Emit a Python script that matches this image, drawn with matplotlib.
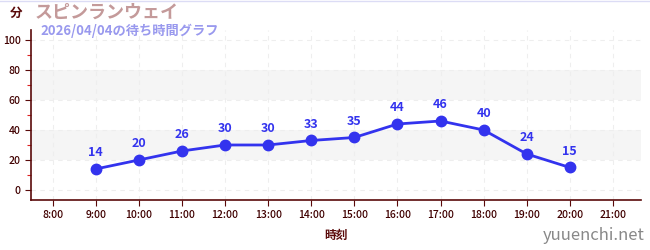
import matplotlib.pyplot as plt
import numpy as np

plt.rcParams['font.family'] = ['Noto Sans CJK JP', 'DejaVu Sans']

hours = [9, 10, 11, 12, 13, 14, 15, 16, 17, 18, 19, 20]
waits = [14, 20, 26, 30, 30, 33, 35, 44, 46, 40, 24, 15]
xticks = list(range(8, 22))
xlabels = ['%d:00' % h for h in xticks]
yticks = [0, 20, 40, 60, 80, 100]

dark = '#5a0a0a'
blue = '#3333ee'

fig = plt.figure(figsize=(6.5, 2.5), dpi=100)
ax = fig.add_axes([0.048, 0.2, 0.938, 0.68])

# grey bands
for lo, hi in [(20, 40), (60, 80)]:
    ax.axhspan(lo, hi, color='#f5f5f5', zorder=0, lw=0)

ax.plot(hours, waits, color=blue, lw=2, marker='o', ms=7.5, zorder=3)
for h, w in zip(hours, waits):
    ax.annotate(str(w), (h, w), xytext=(0, 7), textcoords='offset points',
                ha='center', va='bottom', color=blue, fontsize=9,
                fontweight='bold')

ax.set_xlim(7.5, 21.65)
ax.set_ylim(-6.7, 106.7)
ax.set_xticks(xticks)
ax.set_xticklabels(xlabels)
ax.set_yticks(yticks)
ax.set_yticks([10, 30, 50, 70, 90], minor=True)
ax.grid(True, which='major', color='#eeeeee', ls=(0, (4, 4)), lw=0.8)
ax.set_axisbelow(True)

for s in ['top', 'right']:
    ax.spines[s].set_visible(False)
for s in ['left', 'bottom']:
    ax.spines[s].set_color(dark)
    ax.spines[s].set_linewidth(1.2)
ax.tick_params(axis='both', which='major', colors=dark, labelsize=7.5,
               length=4, width=0.8)
ax.tick_params(axis='y', which='minor', colors='#dd2222', length=3, width=0.8)
for lab in ax.get_xticklabels() + ax.get_yticklabels():
    lab.set_fontweight('medium')
    lab.set_color('#400000')

ax.set_xlabel('時刻', color=dark, fontsize=8.5, fontweight='bold', labelpad=6)

fig.text(0.015, 0.945, '分', color=dark, fontsize=9, fontweight='bold',
         va='center')
fig.text(0.054, 0.95, 'スピンランウェイ', color='#c49a9a', fontsize=13,
         fontweight='bold', va='center')
fig.text(0.062, 0.875, '2026/04/04の待ち時間グラフ', color='#9999ee',
         fontsize=9.5, fontweight='bold', va='center')
fig.text(0.992, 0.06, 'yuuenchi.net', color='#888888', fontsize=12,
         ha='right', va='center')

fig.add_artist(plt.Line2D([0, 1], [0.998, 0.998], color='#dcdcf5', lw=1))

plt.savefig('out.png', dpi=100)
